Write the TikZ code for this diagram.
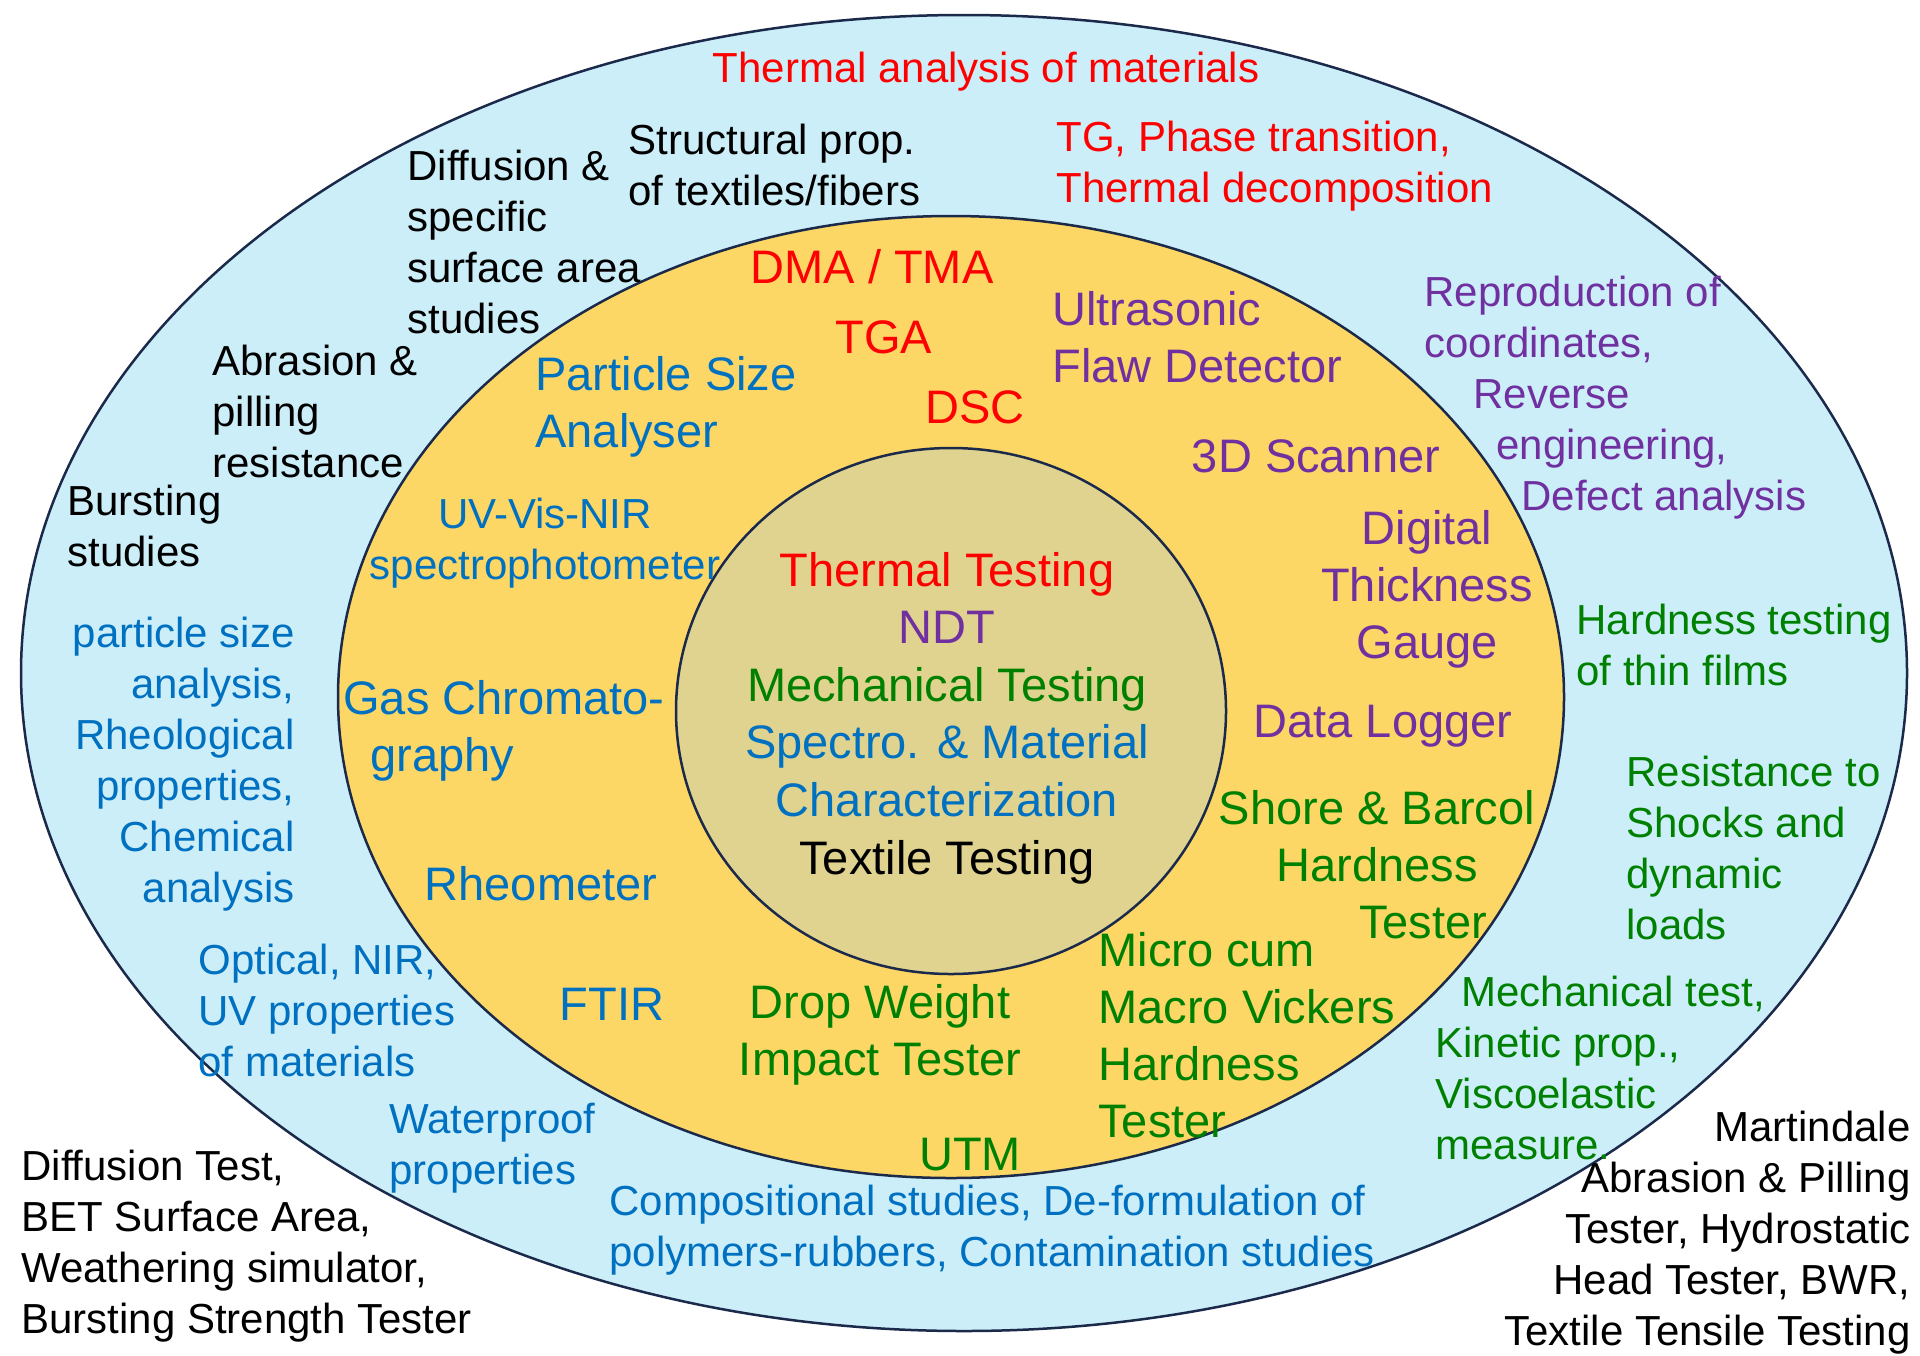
\documentclass[tikz,border=0pt]{standalone}
\usepackage{fontspec}
\setmainfont{Liberation Sans}
\usetikzlibrary{positioning}
\definecolor{ringblue}{RGB}{204,238,249}
\definecolor{ringyellow}{RGB}{252,215,101}
\definecolor{coretan}{RGB}{224,211,143}
\definecolor{edgenavy}{RGB}{27,42,74}
\definecolor{txtred}{RGB}{255,0,0}
\definecolor{txtpurple}{RGB}{112,48,160}
\definecolor{txtgreen}{RGB}{0,128,0}
\definecolor{txtblue}{RGB}{0,112,192}

\begin{document}
\begin{tikzpicture}[x=0.5pt,y=-0.5pt,
    outer/.style={inner sep=0pt,font=\fontsize{21}{25.5}\selectfont},
    ring/.style={inner sep=0pt,font=\fontsize{23.5}{28.5}\selectfont},
    rim/.style={line width=1.25pt,draw=edgenavy}]
        \useasboundingbox(0,0)rectangle(1920,1355);
        \fill[white](0,0)rectangle(1920,1355);
        \draw[rim,fill=ringblue](964,673)ellipse[x radius=943,y radius=658];
        \draw[rim,fill=ringyellow](951,697)ellipse[x radius=613,y radius=481];
        \draw[rim,fill=coretan](951,711)ellipse[x radius=275,y radius=263];
        \node[outer,txtred](thermana)at(986,72){Thermal analysis of materials};
        \node[outer,align=left,anchor=west](diffspec)at(407,242){Diffusion \&\\specific\\surface area\\studies};
        \node[outer,align=left,anchor=west](structprop)at(628,165){Structural prop.\\of textiles/fibers};
        \node[outer,txtred,align=left,anchor=west](tgphase)at(1056,166){TG, Phase transition,\\Thermal decomposition};
        \node[outer,align=left,anchor=west](abrasion)at(212,411){Abrasion \&\\pilling\\resistance};
        \node[outer,align=left,anchor=west](bursting)at(67,526){Bursting\\studies};
        \node[outer,txtpurple,align=left,anchor=west](reproduce)at(1424,398){Reproduction of\\coordinates,\\\hspace*{24.5pt}Reverse\\\hspace*{36pt}engineering,\\\hspace*{48.5pt}Defect analysis};
        \node[outer,txtblue,align=right,anchor=east](particlesz)at(295,764){particle size\\analysis,\\Rheological\\properties,\\Chemical\\analysis};
        \node[outer,txtblue,align=left,anchor=west](optical)at(198,1010){Optical, NIR,\\UV properties\\of materials};
        \node[outer,txtblue,align=left,anchor=west](waterproof)at(389,1148){Waterproof\\properties};
        \node[outer,txtblue,align=left,anchor=west](composit)at(609,1230){Compositional studies, De-formulation of\\polymers-rubbers, Contamination studies};
        \node[outer,txtgreen,align=left,anchor=west](thinfilm)at(1576,645){Hardness testing\\of thin films};
        \node[outer,txtgreen,align=left,anchor=west](shocks)at(1626,848){Resistance to\\Shocks and\\dynamic\\loads};
        \node[outer,txtgreen,align=left,anchor=west](mechtest)at(1435,1068){\hspace*{13pt}Mechanical test,\\Kinetic prop.,\\Viscoelastic\\measure.};
        \node[outer,align=left,anchor=west](bettest)at(21,1246){Diffusion Test,\\BET Surface Area,\\Weathering simulator,\\Bursting Strength Tester};
        \node[outer,align=right,anchor=east](martindale)at(1911,1233){Martindale\\Abrasion \& Pilling\\Tester, Hydrostatic\\Head Tester, BWR,\\Textile Tensile Testing};
        \node[ring,txtred](dmatma)at(872,267){DMA / TMA};
        \node[ring,txtred](tga)at(884,337){TGA};
        \node[ring,txtred](dsc)at(975,407){DSC};
        \node[ring,txtblue,align=left,anchor=west](psa)at(535,407){Particle Size\\Analyser};
        \node[ring,txtpurple,align=left,anchor=west](flaw)at(1052,337){Ultrasonic\\Flaw Detector};
        \node[ring,txtpurple](scanner)at(1316,456){3D Scanner};
        \node[ring,txtpurple,align=center](thickness)at(1427,589){Digital\\Thickness\\Gauge};
        \node[outer,txtblue,align=center](uvvis)at(545,543){UV-Vis-NIR\\spectrophotometer};
        \node[ring,txtblue,align=left,anchor=west](gaschrom)at(343,731){Gas Chromato-\\\hspace*{13.5pt}graphy};
        \node[ring,txtblue](rheometer)at(541,884){Rheometer};
        \node[ring,txtblue](ftir)at(612,1004){FTIR};
        \node[ring,txtgreen,align=center](dropwt)at(880,1035){Drop Weight\\Impact Tester};
        \node[ring,txtgreen,align=left,anchor=west](vickers)at(1098,1035){Micro cum\\Macro Vickers\\Hardness\\Tester};
        \node[ring,txtgreen](utm)at(970,1155){UTM};
        \node[ring,txtgreen,align=center](shore)at(1377,865){Shore \& Barcol\\Hardness\\\hspace*{46pt}Tester};
        \node[ring,txtpurple](datalogger)at(1383,726){Data Logger};
        \node[ring,align=center,font=\fontsize{23.5}{28.8}\selectfont](core)at(947,718){\textcolor{txtred}{Thermal Testing}\\\textcolor{txtpurple}{NDT}\\\textcolor{txtgreen}{Mechanical Testing}\\\textcolor{txtblue}{Spectro. \& Material}\\\textcolor{txtblue}{Characterization}\\Textile Testing};
    \end{tikzpicture}
\end{document}
